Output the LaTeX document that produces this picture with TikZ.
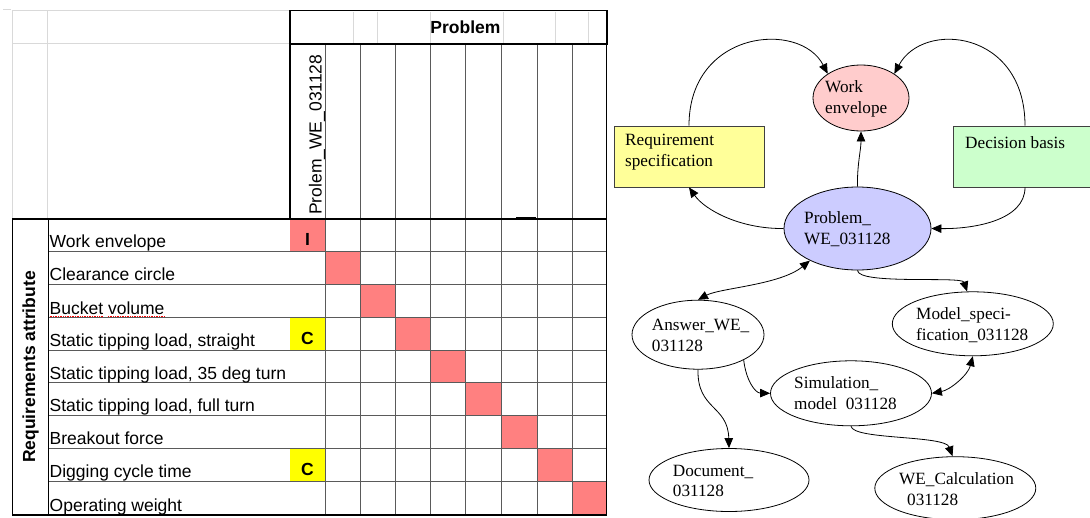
\documentclass[tikz,border=0pt]{standalone}
\usepackage{fontspec}
\setmainfont{Liberation Serif}
\newfontfamily\arialf{Liberation Sans}
\usetikzlibrary{arrows.meta,shapes.geometric}
\definecolor{cellred}{HTML}{FF8080}
\definecolor{cellyel}{HTML}{FFFF00}
\definecolor{wepink}{HTML}{FFCCCC}
\definecolor{reqyel}{HTML}{FFFF99}
\definecolor{decgrn}{HTML}{CCFFCC}
\definecolor{problue}{HTML}{CCCCFF}
\definecolor{gridgray}{HTML}{D9D9D9}
\definecolor{linegray}{HTML}{5A5A5A}
\begin{document}
\begin{tikzpicture}[x=1pt,y=-1pt,
  tbl/.style={font=\arialf\fontsize{17.5}{20}\selectfont, inner sep=0pt},
  tblb/.style={font=\arialf\bfseries\fontsize{17.5}{20}\selectfont, inner sep=0pt},
  gtxt/.style={font=\fontsize{17.2}{20.5}\selectfont, inner sep=0pt, align=left, anchor=west},
  ell/.style={ellipse, draw=black, line width=0.8pt, inner sep=0pt},
  gbox/.style={rectangle, draw=black!75, line width=0.8pt, inner sep=0pt},
  edge/.style={draw, line width=0.8pt, -{Triangle[length=10pt,width=8.5pt]}},
  bedge/.style={draw, line width=0.8pt, {Triangle[length=10pt,width=8.5pt]}-{Triangle[length=10pt,width=8.5pt]}},
  grid/.style={draw=gridgray, line width=0.9pt},
  inner/.style={draw=linegray, line width=0.9pt},
  outer/.style={draw=black, line width=1.1pt}
]
\useasboundingbox (0,0) rectangle (1090,517);
\fill[white] (0,0) rectangle (1090,517);

% ---------- table: spreadsheet gridlines ----------
\draw[gridgray, line width=0.9pt] (3,9) -- (11,9);
\draw[grid] (12.3,10) -- (290,10);
\draw[grid] (12.3,43.3) -- (290,43.3);
\draw[grid] (12.3,10) -- (12.3,219);
\draw[grid] (47.7,10) -- (47.7,219);
\foreach \x in {353,377,430,503,555,588} \draw[grid] (\x,11.5) -- (\x,43.5);

% ---------- cell fills ----------
\fill[cellred] (290,219) rectangle (325,251);
\fill[cellred] (325,251) rectangle (360,284.3);
\fill[cellred] (360,284.3) rectangle (395,317.7);
\fill[cellred] (395,317.7) rectangle (430,350.3);
\fill[cellred] (430,350.3) rectangle (465.7,382.8);
\fill[cellred] (465.7,382.8) rectangle (501.7,415.3);
\fill[cellred] (501.7,415.3) rectangle (537.3,448.3);
\fill[cellred] (537.3,448.3) rectangle (572.3,481.2);
\fill[cellred] (572.3,481.2) rectangle (606.7,515);
\fill[cellyel] (290,317.7) rectangle (325,350.3);
\fill[cellyel] (290,448.3) rectangle (325,481.2);

% ---------- table lines ----------
\foreach \y in {251,284.3,317.7,350.3,382.8,415.3,448.3,481.2} \draw[inner] (48.3,\y) -- (606.7,\y);
\foreach \x in {325,360,395,430,465.7,501.7,537.3,572.3} \draw[inner] (\x,44) -- (\x,515);
\draw[outer] (290,10.7) rectangle (607,44);
\draw[outer] (290,44) -- (290,219);
\draw[outer] (606.7,44) -- (606.7,219);
\draw[outer] (12.3,219) rectangle (606.7,515);
\draw[outer] (48.3,219) -- (48.3,515);
\draw[black, line width=1.6pt] (516,217.6) -- (536,217.6);

% ---------- table texts ----------
\node[tblb, anchor=base] (ph) at (465.5,33.3) {Problem};
\node[tbl, rotate=90, anchor=base west] (pcol) at (321.5,215) {Prolem\_WE\_031128};
\node[tblb, rotate=90, anchor=base] (ra) at (35,367) {Requirements attribute};
\node[tbl, anchor=base west] (r1) at (49.5,247.5) {Work envelope};
\node[tbl, anchor=base west] (r2) at (49.5,280.8) {Clearance circle};
\node[tbl, anchor=base west] (r3) at (49.5,314.2) {Bucket volume};
\node[tbl, anchor=base west] (r4) at (49.5,346.8) {Static tipping load, straight};
\node[tbl, anchor=base west] (r5) at (49.5,379.3) {Static tipping load, 35 deg turn};
\node[tbl, anchor=base west] (r6) at (49.5,411.8) {Static tipping load, full turn};
\node[tbl, anchor=base west] (r7) at (49.5,444.8) {Breakout force};
\node[tbl, anchor=base west] (r8) at (49.5,477.7) {Digging cycle time};
\node[tbl, anchor=base west] (r9) at (49.5,511.5) {Operating weight};
\draw[red, densely dotted, line width=0.7pt] (49.5,316.6) -- (103,316.6);
\draw[red, densely dotted, line width=0.7pt] (108,316.6) -- (164.5,316.6);
\node[tblb, anchor=base] (ci) at (307.5,245.3) {I};
\node[tblb, anchor=base] (c1) at (307.5,344.5) {C};
\node[tblb, anchor=base] (c2) at (307.5,475.5) {C};

% ---------- graph nodes ----------
\node[ell, fill=wepink, minimum width=96pt, minimum height=66pt] (work) at (861,98) {};
\node[gbox, fill=reqyel, minimum width=150pt, minimum height=61pt] (req) at (689,156.5) {};
\node[gbox, fill=decgrn, minimum width=144pt, minimum height=61pt] (dec) at (1025,156.5) {};
\node[ell, fill=problue, minimum width=147pt, minimum height=83pt] (prob) at (857.5,228.5) {};
\node[ell, minimum width=132pt, minimum height=69pt] (ans) at (698,334.7) {};
\node[ell, minimum width=161pt, minimum height=64pt] (model) at (972.8,323.8) {};
\node[ell, minimum width=161pt, minimum height=65pt] (sim) at (851,393.3) {};
\node[ell, minimum width=160pt, minimum height=63pt] (doc) at (729,480) {};
\node[ell, minimum width=161pt, minimum height=63pt] (wec) at (955.3,488.2) {};

\node[gtxt] (work-t) at (825,99) {Work\\envelope};
\node[gtxt] (req-t) at (625,152) {Requirement\\specification};
\node[gtxt] (dec-t) at (965,143) {Decision basis};
\node[gtxt] (prob-t) at (804,229) {Problem\_\\WE\_031128};
\node[gtxt] (ans-t) at (651.7,335.5) {Answer\_WE\_\\031128};
\node[gtxt] (model-t) at (916,325) {Model\_speci-\\fication\_031128};
\node[gtxt] (sim-t) at (794,393) {Simulation\_\\model\ \ 031128};
\node[gtxt] (doc-t) at (672.7,480.7) {Document\_\\031128};
\node[gtxt] (wec-t) at (899,489) {WE\_Calculation\\\hspace*{8pt}031128};

% ---------- graph edges ----------
\draw[edge] (req.north) .. controls (689,30) and (800,20) .. (work.144);
\draw[edge] (dec.north) .. controls (1025,30) and (923,20) .. (work.36);
\draw[edge] (prob.north) .. controls (857,165) and (861,150) .. (work.south);
\draw[edge] (prob.west) .. controls (740,229) and (705,210) .. (req.south);
\draw[edge] (dec.south) .. controls (1025,220) and (975,229) .. (prob.east);
\draw[bedge] (ans.north) .. controls (720,288) and (780,285) .. (prob.214);
\draw[edge] (prob.south) .. controls (858,285) and (962,276) .. (model.100);
\draw[edge] (ans.331) .. controls (746,380) and (755,393) .. (sim.west);
\draw[edge] (ans.south) .. controls (697,410) and (728,405) .. (doc.north);
\draw[bedge] (sim.east) .. controls (950,390) and (968,375) .. (model.south);
\draw[edge] (sim.south) .. controls (853,440) and (945,435) .. (wec.95);
\end{tikzpicture}
\end{document}
